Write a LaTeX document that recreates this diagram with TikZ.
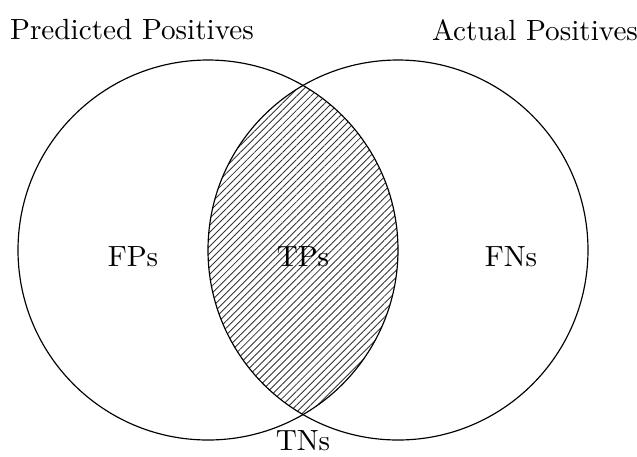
\documentclass[tikz,border=0pt]{standalone}
\usetikzlibrary{patterns.meta}
\begin{document}
\begin{tikzpicture}[x=0.3425pt,y=-0.3425pt,
  setcircle/.style={draw=black, line width=0.4pt},
  hatch/.style={pattern={Lines[angle=45, distance=1.7pt, line width=0.3pt]}, pattern color=black!80},
  lbl/.style={inner sep=0pt, font=\normalsize}]
\useasboundingbox (0,0) rectangle (637,456);
\coordinate (cl) at (208,250);
\coordinate (cr) at (398,250);
% hatched intersection of the two sets
\begin{scope}
  \clip (cl) circle[radius=190*0.3425pt];
  \fill[hatch] (cr) circle[radius=190*0.3425pt];
\end{scope}
\draw[setcircle] (cl) circle[radius=190*0.3425pt];
\draw[setcircle] (cr) circle[radius=190*0.3425pt];
\node[lbl] (pp) at (132,30) {Predicted Positives};
\node[lbl] (ap) at (535,30) {Actual Positives};
\node[lbl] (fp) at (133,257) {FPs};
\node[lbl] (tp) at (303,257) {TPs};
\node[lbl] (fn) at (511,257) {FNs};
\node[lbl] (tn) at (303,441) {TNs};
\end{tikzpicture}
\end{document}
